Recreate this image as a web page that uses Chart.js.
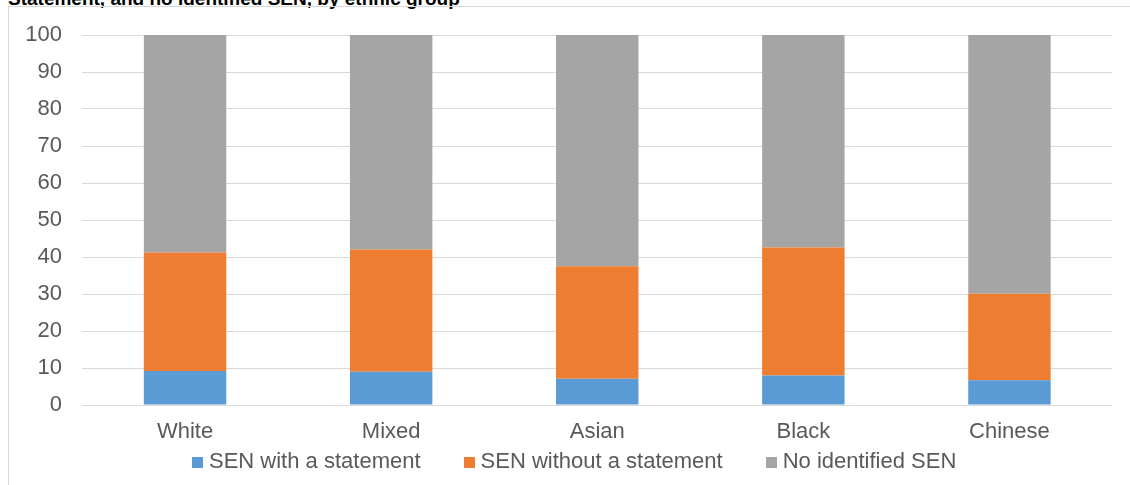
<!DOCTYPE html>
<html>
<head>
<meta charset="utf-8">
<script src="https://cdn.jsdelivr.net/npm/chart.js@4.4.0/dist/chart.umd.min.js"></script>
<style>
	body { margin: 0; width: 1130px; height: 485px; overflow: hidden; background: #fff; font-family: "Liberation Sans", Arial, sans-serif; }
	#title { position: absolute; left: 8px; top: -11px; font-size: 19px; line-height: 19px; font-weight: bold; color: #000; white-space: nowrap; }
	#frame { position: absolute; left: 8px; top: 6px; width: 1200px; height: 600px; border: 1px solid #d9d9d9; }
	#wrap { position: absolute; left: 0; top: 0; width: 1130px; height: 485px; }
	#legend { position: absolute; left: 192px; top: 450px; display: flex; font-size: 22px; line-height: 22px; color: #595959; white-space: nowrap; }
	#legend .item { margin-right: 43px; }
	#legend .box { display: inline-block; width: 11px; height: 11px; margin-right: 6px; }
</style>
</head>
<body>
	<div id="title">Statement, and no identified SEN, by ethnic group</div>
	<div id="frame"></div>
	<div id="wrap"><canvas id="myChart" width="1130" height="485"></canvas></div>
	<div id="legend"></div>

<script>
// categories (ethnic groups)
const groups = ['White', 'Mixed', 'Asian', 'Black', 'Chinese'];

// series values, percent of pupils
const withStatement = [9.2, 9.0, 7.1, 8.0, 6.7];
const withoutStatement = [32.0, 33.0, 30.4, 34.6, 23.4];
const noSen = [58.8, 58.0, 62.5, 57.4, 69.9];

// y axis ticks
const yTicks = [0, 10, 20, 30, 40, 50, 60, 70, 80, 90, 100];

const seriesNames = ['SEN with a statement', 'SEN without a statement', 'No identified SEN'];
const seriesColors = ['#5b9bd5', '#ed7d31', '#a5a5a5'];
const seriesData = [withStatement, withoutStatement, noSen];

const textColor = '#595959';
const font = { family: '"Liberation Sans", Arial, sans-serif', size: 22 };

new Chart('myChart', {
	type: 'bar',
	data: {
		labels: groups,
		datasets: seriesData.map((d, i) => ({
			label: seriesNames[i],
			data: d,
			backgroundColor: seriesColors[i],
			borderWidth: 0,
			barPercentage: 0.4,
			categoryPercentage: 1
		}))
	},
	options: {
		responsive: false,
		animation: false,
		layout: { padding: { left: 0, right: 17.5, top: 35, bottom: 30 } },
		plugins: {
			legend: { display: false },
			tooltip: { enabled: false }
		},
		scales: {
			x: {
				stacked: true,
				grid: { display: false, drawTicks: false },
				border: { display: false },
				ticks: { color: textColor, font: font, padding: 14 },
				afterFit: s => { s.height = 50; }
			},
			y: {
				stacked: true,
				min: 0,
				max: 100,
				afterBuildTicks: s => { s.ticks = yTicks.map(v => ({ value: v })); },
				grid: { color: '#d9d9d9', lineWidth: 1, drawTicks: false },
				border: { display: false },
				ticks: { color: textColor, font: font, padding: 20 },
				afterFit: s => { s.width = 82; }
			}
		}
	}
});

// legend under the chart
const legend = document.getElementById('legend');
seriesNames.forEach((name, i) => {
	const item = document.createElement('span');
	item.className = 'item';
	item.innerHTML = '<span class="box" style="background:' + seriesColors[i] + '"></span>' + name;
	legend.appendChild(item);
});
</script>
</body>
</html>
